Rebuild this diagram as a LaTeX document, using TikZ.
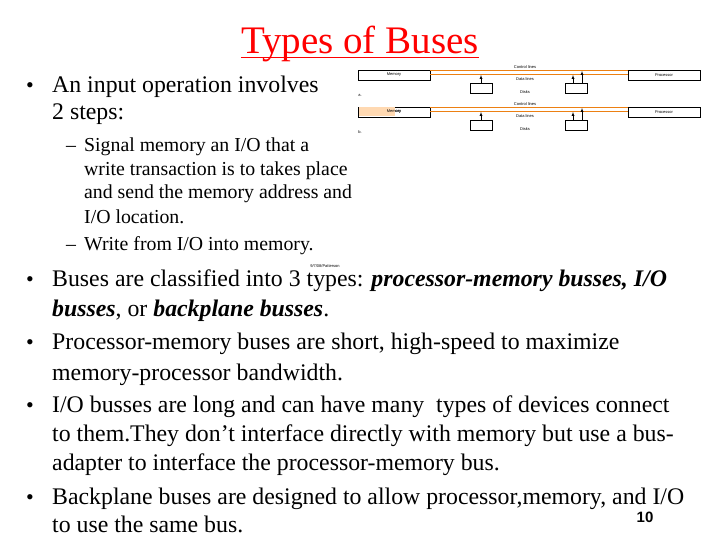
\documentclass[tikz,border=0pt]{standalone}
\usepackage{fontspec}
\setmainfont{Liberation Serif}
\newfontfamily\sansf{Liberation Sans}
\begin{document}
\begin{tikzpicture}[x=1pt,y=-1pt,
  main/.style={anchor=base west,inner sep=0,font=\fontsize{23.8}{25}\selectfont},
  sub/.style={anchor=base west,inner sep=0,font=\fontsize{19.8}{21}\selectfont},
  bul/.style={anchor=base,inner sep=0,font=\fontsize{22}{24}\selectfont},
  tiny/.style={inner sep=0,font=\sansf\fontsize{4}{4}\selectfont},
  bx/.style={draw,line width=0.5pt,minimum width=72,minimum height=10,inner sep=0},
  busl/.style={draw=orange!70!brown,line width=1pt},
  disk/.style={draw,line width=0.6pt,minimum width=22,minimum height=10,inner sep=0}]
\useasboundingbox (0,0) rectangle (720,540);
\fill[white] (0,0) rectangle (720,540);
\node[inner sep=0,anchor=base,text=red,font=\fontsize{39}{40}\selectfont] (title) at (360,54) {Types of Buses};
\draw[red,line width=1pt] (title.base west) ++(0,4) -- ([yshift=-4pt]title.base east);
% bullets
\foreach \n/\yy in {b1/93,b2/286,b3/349,b4/412,b5/504}{\node[bul] (\n) at (30,\yy) {•};}
\node[main] (t1) at (52,93) {An input operation involves};
\node[main] (t2) at (52,120) {2 steps:};
\node[sub] (d1) at (66,152) {–};
\node[sub] (s1) at (84,152) {Signal memory an I/O that a};
\node[sub] (s2) at (84,176) {write transaction is to takes place};
\node[sub] (s3) at (84,199) {and send the memory address and};
\node[sub] (s4) at (84,223) {I/O location.};
\node[sub] (d2) at (66,251) {–};
\node[sub] (s5) at (84,251) {Write from I/O into memory.};
\node[main] (m1) at (52,286) {Buses are classified into 3 types: \textbf{\textit{processor-memory busses, I/O}}};
\node[main] (m2) at (52,316) {\textbf{\textit{busses}}, or \textbf{\textit{backplane busses}}.};
\node[main] (m3) at (52,349) {Processor-memory buses are short, high-speed to maximize};
\node[main] (m4) at (52,380) {memory-processor bandwidth.};
\node[main] (m5) at (52,412) {I/O busses are long and can have many\ \ types of devices connect};
\node[main] (m6) at (52,441) {to them.They don't interface directly with memory but use a bus-};
\node[main] (m7) at (52,470) {adapter to interface the processor-memory bus.};
\node[main] (m8) at (52,504) {Backplane buses are designed to allow processor,memory, and I/O};
\node[main] (m9) at (52,532) {to use the same bus.};
\node[inner sep=0,font=\sansf\bfseries\fontsize{15}{15}\selectfont] (pg) at (645,517) {10};
\node[tiny] (cr) at (325,266) {9/7/08/Patterson};
% diagram
\foreach \p/\dy in {a/0,b/37}{
 \node[bx] (mem\p) at (394,75+\dy) {};
 \node[tiny] at (mem\p) {Memory};
 \node[bx] (pro\p) at (664,75+\dy) {};
 \node[tiny] at (pro\p) {Processor};
 \draw[busl] (mem\p.east |- 0,71+\dy) -- (pro\p.west |- 0,71+\dy);
 \draw[busl] (mem\p.east |- 0,75+\dy) -- (pro\p.west |- 0,75+\dy);
 \node[tiny] at (525,67+\dy) {Control lines};
 \node[tiny] at (525,79+\dy) {Data lines};
 \node[tiny] at (525,92+\dy) {Disks};
 \node[disk] (dk1\p) at (481,88+\dy) {};
 \node[disk] (dk2\p) at (576,88+\dy) {};
 \draw[-latex,line width=0.4pt] (dk1\p.north) -- (481,75+\dy);
 \draw[-latex,line width=0.4pt] (573,83+\dy) -- (573,75+\dy);
 \draw[-latex,line width=0.4pt] (582,83+\dy) -- (582,71+\dy);
 \node[tiny] at (360,95+\dy) {\p.};
}
\fill[orange!30] (358.5,107.5) rectangle (395,116.5);
\node[tiny] at (394,112) {Memory};
\end{tikzpicture}
\end{document}
